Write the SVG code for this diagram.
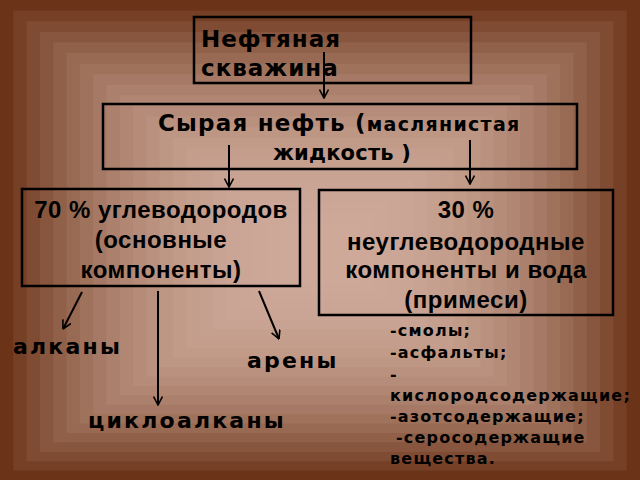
<svg xmlns="http://www.w3.org/2000/svg" width="640" height="480" viewBox="0 0 640 480">
<defs>
<style>
.box{fill:none;stroke:#000;stroke-width:2.5}
.dj{font-family:"DejaVu Sans",sans-serif;font-weight:bold;fill:#000}
.ar{font-family:"Liberation Sans",Arial,sans-serif;font-weight:bold;fill:#000;font-size:24px;letter-spacing:0.5px}
.lbl{font-size:22px;letter-spacing:2.2px}
.lst{font-size:16px;letter-spacing:1.2px}
.con{stroke:#000;stroke-width:2;fill:none}
</style>
<marker id="v" viewBox="0 0 10 10" refX="9.5" refY="5" markerWidth="10" markerHeight="10" markerUnits="userSpaceOnUse" orient="auto">
<path d="M1,0.5 L9.5,5 L1,9.5" fill="none" stroke="#000" stroke-width="1.6"/>
</marker>
</defs>
<g id="background">
<rect x="0" y="0" width="640" height="480" fill="#6b3419"/>
<rect x="13.3" y="10.6" width="613.4" height="460" fill="#754026"/>
<rect x="26.6" y="21.2" width="586.8" height="440" fill="#7f4c33"/>
<rect x="39.9" y="31.8" width="560.2" height="420" fill="#88563e"/>
<rect x="53.2" y="42.4" width="533.6" height="400" fill="#906049"/>
<rect x="66.5" y="53" width="507" height="380" fill="#986953"/>
<rect x="79.8" y="63.6" width="480.4" height="360" fill="#9f725c"/>
<rect x="93.1" y="74.2" width="453.8" height="340" fill="#a57965"/>
<rect x="106.4" y="84.8" width="427.2" height="320" fill="#ab806c"/>
<rect x="119.7" y="95.4" width="400.6" height="300" fill="#b18673"/>
<rect x="133" y="106" width="374" height="280" fill="#b58c7a"/>
<rect x="146.3" y="116.6" width="347.4" height="260" fill="#ba917f"/>
<rect x="159.6" y="127.2" width="320.8" height="240" fill="#be9684"/>
<rect x="172.9" y="137.8" width="294.2" height="220" fill="#c19a88"/>
<rect x="186.2" y="148.4" width="267.6" height="200" fill="#c49d8c"/>
<rect x="199.5" y="159" width="241" height="180" fill="#c6a08f"/>
<rect x="212.8" y="169.6" width="214.4" height="160" fill="#c8a292"/>
<rect x="226.1" y="180.2" width="187.8" height="140" fill="#caa494"/>
<rect x="239.4" y="190.8" width="161.2" height="120" fill="#cba596"/>
<rect x="252.7" y="201.4" width="134.6" height="100" fill="#cca697"/>
<rect x="266" y="212" width="108" height="80" fill="#cda798"/>
<rect x="279.3" y="222.6" width="81.4" height="60" fill="#cea999"/>
</g>
<g id="connectors">
<line class="con" x1="324" y1="52" x2="324" y2="98" marker-end="url(#v)"/>
<line class="con" x1="229" y1="145" x2="229" y2="187" marker-end="url(#v)"/>
<line class="con" x1="470" y1="140" x2="470" y2="184" marker-end="url(#v)"/>
<line class="con" x1="82" y1="292" x2="63" y2="329" marker-end="url(#v)"/>
<line class="con" x1="158" y1="291" x2="158" y2="405" marker-end="url(#v)"/>
<line class="con" x1="259" y1="291" x2="279" y2="339" marker-end="url(#v)"/>
</g>
<g id="well">
<rect class="box" x="194" y="17" width="277" height="66"/>
<text class="dj" font-size="23" x="201" y="47" letter-spacing="1">Нефтяная</text>
<text class="dj" font-size="23" x="201" y="76" letter-spacing="1">скважина</text>
</g>
<g id="crude">
<rect class="box" x="103" y="104" width="474" height="65"/>
<text class="dj" font-size="23" x="158" y="131" letter-spacing="1.2">Сырая нефть (<tspan font-size="19" letter-spacing="1.3">маслянистая</tspan></text>
<text class="dj" font-size="21" x="273" y="160" letter-spacing="0.2">жидкость )</text>
</g>
<g id="hydrocarbons">
<rect class="box" x="22" y="189" width="278" height="97"/>
<text class="ar" x="161" y="218" text-anchor="middle">70 % углеводородов</text>
<text class="ar" x="161" y="248" text-anchor="middle">(основные</text>
<text class="ar" x="161" y="278" text-anchor="middle">компоненты)</text>
</g>
<g id="nonhydrocarbons">
<rect class="box" x="319" y="190" width="294" height="125"/>
<text class="ar" x="466" y="218" text-anchor="middle">30 %</text>
<text class="ar" x="466" y="250" text-anchor="middle">неуглеводородные</text>
<text class="ar" x="466" y="278" text-anchor="middle">компоненты и вода</text>
<text class="ar" x="466" y="308" text-anchor="middle">(примеси)</text>
</g>
<g id="alkanes">
<text class="dj lbl" x="13" y="354">алканы</text>
</g>
<g id="arenes">
<text class="dj lbl" x="247" y="368">арены</text>
</g>
<g id="cycloalkanes">
<text class="dj lbl" x="88" y="428">циклоалканы</text>
</g>
<g id="impurities">
<text class="dj lst" x="390" y="336">-смолы;</text>
<text class="dj lst" x="390" y="358">-асфальты;</text>
<text class="dj lst" x="390" y="380">-</text>
<text class="dj lst" x="390" y="401">кислородсодержащие;</text>
<text class="dj lst" x="390" y="422">-азотсодержащие;</text>
<text class="dj lst" x="396" y="443">-серосодержащие</text>
<text class="dj lst" x="390" y="464">вещества.</text>
</g>
</svg>
